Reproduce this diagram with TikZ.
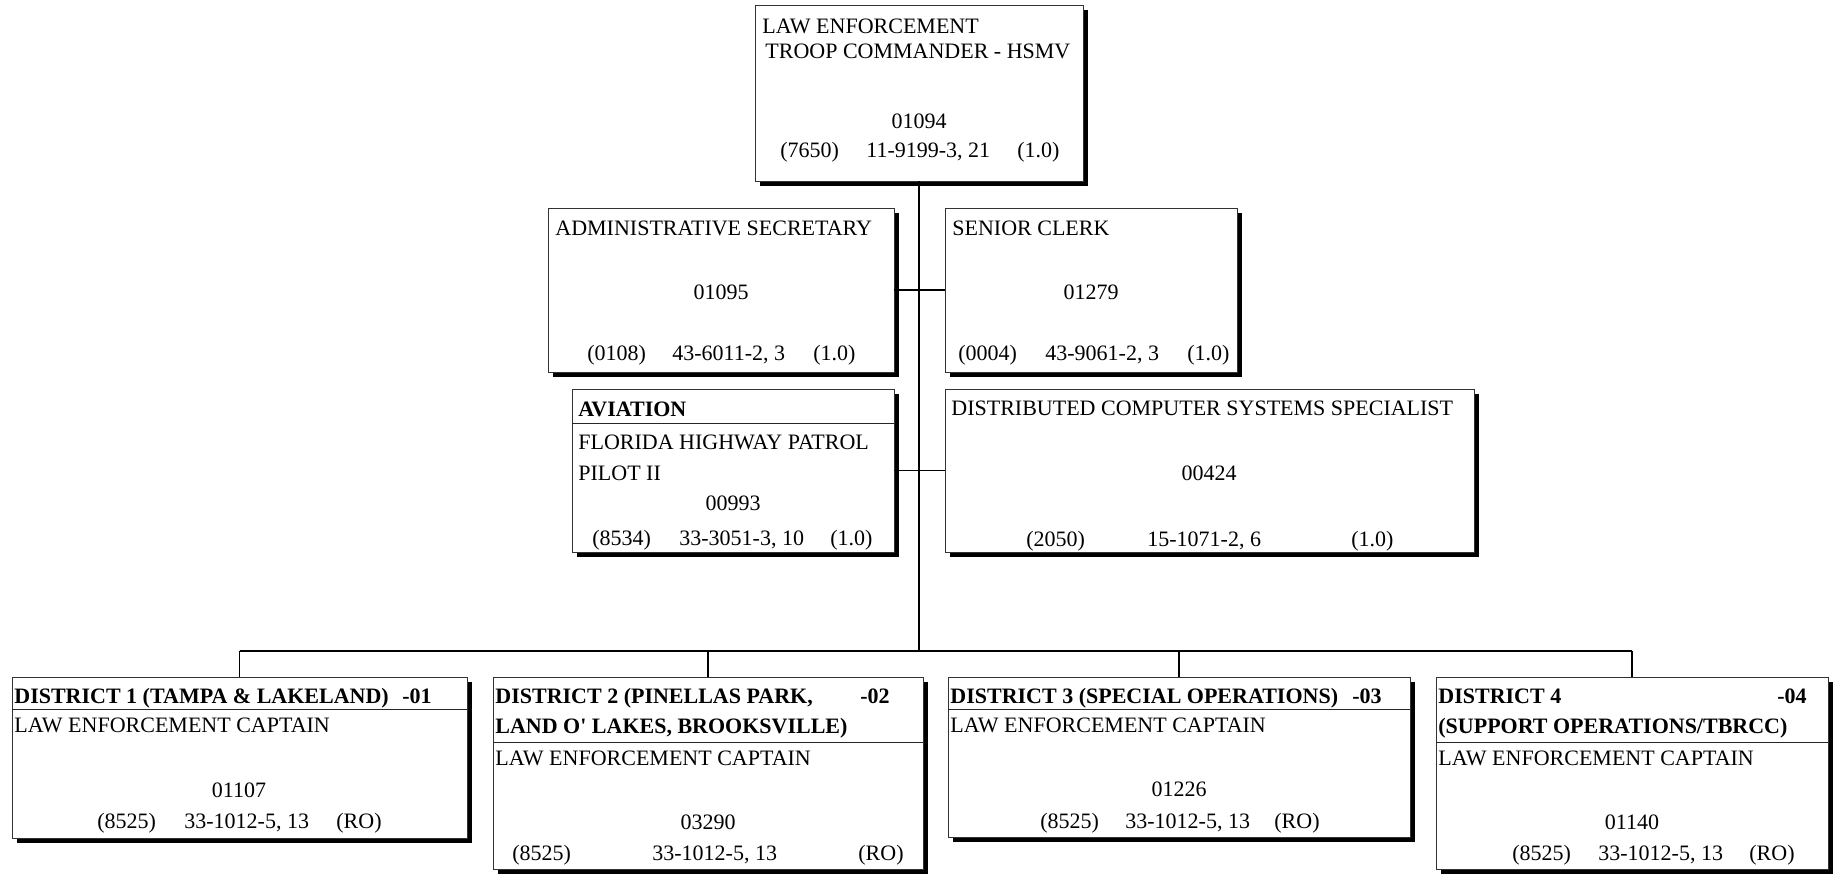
\documentclass[tikz,border=0pt]{standalone}
\usepackage{fontspec}
\setmainfont{Liberation Serif}
\begin{document}
\begin{tikzpicture}[x=0.5pt,y=-0.5pt,
  lbl/.style={inner sep=0pt, font=\fontsize{11}{13}\selectfont},
  L/.style={lbl, anchor=base west},
  C/.style={lbl, anchor=base},
  R/.style={lbl, anchor=base east},
  B/.style={font=\fontsize{11}{13}\selectfont\bfseries},
  link/.style={draw=black, line width=0.55pt},
  sep/.style={draw=black!85, line width=0.5pt},
  posbox/.style={draw=black!80, fill=white, line width=0.5pt, inner sep=0pt, outer sep=0pt}]
\useasboundingbox (0,0) rectangle (1841,873);

% position box with drop shadow: name, left, top, right, bottom
\newcommand\orgbox[5]{%
  \fill[black] (#2+5,#3+5) rectangle (#4+5,#5+5);
  \node[posbox, minimum width={0.5pt*(#4-#2)}, minimum height={0.5pt*(#5-#3)}]
    (#1) at ({(#2+#4)/2},{(#3+#5)/2}) {};}

% boxes
\orgbox{top}{755}{5}{1083}{181}
\orgbox{admin}{548}{208}{894}{372}
\orgbox{senior}{945}{208}{1237}{372}
\orgbox{avi}{572}{389}{894}{552}
\orgbox{dcss}{945}{389}{1474}{552}
\orgbox{d1}{12}{677}{467}{838}
\orgbox{d2}{493}{677}{923}{869}
\orgbox{d3}{948}{677}{1410}{837}
\orgbox{d4}{1436}{677}{1828}{869}

% header separators
\draw[sep] (572,423) -- (894,423);
\draw[sep] (12,709) -- (467,709);
\draw[sep] (493,742) -- (923,742);
\draw[sep] (948,709) -- (1410,709);
\draw[sep] (1436,742) -- (1828,742);

% connectors
\coordinate (bus) at (919,651);
\draw[link] (top.south) -- (bus);
\draw[link] (d1.north |- bus) -- (d4.north |- bus);
\foreach \d in {d1,d2,d3,d4} \draw[link] (\d.north |- bus) -- (\d.north);
\draw[link] (admin.east) -- (senior.west);
\draw[link] (avi.east) -- (dcss.west);

% troop commander
\node[L] (t1) at (762,33) {LAW ENFORCEMENT};
\node[L] (t2) at (765,58) {TROOP COMMANDER - HSMV};
\node[C] (t3) at (919,128) {01094};
\node[L] (t4) at (780,157) {(7650)};
\node[L] (t5) at (866,157) {11-9199-3, 21};
\node[L] (t6) at (1017,157) {(1.0)};

% administrative secretary
\node[L] (a1) at (555,235) {ADMINISTRATIVE SECRETARY};
\node[C] (a2) at (721,299) {01095};
\node[L] (a3) at (587,360) {(0108)};
\node[L] (a4) at (672,360) {43-6011-2, 3};
\node[L] (a5) at (813,360) {(1.0)};

% senior clerk
\node[L] (s1) at (952,235) {SENIOR CLERK};
\node[C] (s2) at (1091,299) {01279};
\node[L] (s3) at (958,360) {(0004)};
\node[L] (s4) at (1045,360) {43-9061-2, 3};
\node[L] (s5) at (1187,360) {(1.0)};

% aviation
\node[L,B] (v1) at (578,416) {AVIATION};
\node[L] (v2) at (578,449) {FLORIDA HIGHWAY PATROL};
\node[L] (v3) at (578,480) {PILOT II};
\node[C] (v4) at (733,510) {00993};
\node[L] (v5) at (592,545) {(8534)};
\node[L] (v6) at (679,545) {33-3051-3, 10};
\node[L] (v7) at (830,545) {(1.0)};

% distributed computer systems specialist
\node[L] (c1) at (951,415) {DISTRIBUTED COMPUTER SYSTEMS SPECIALIST};
\node[C] (c2) at (1209,480) {00424};
\node[L] (c3) at (1026,546) {(2050)};
\node[L] (c4) at (1147,546) {15-1071-2, 6};
\node[L] (c5) at (1351,546) {(1.0)};

% district 1
\node[L,B] (e1) at (14,703) {DISTRICT 1 (TAMPA \& LAKELAND)};
\node[R,B] (e2) at (432,703) {-01};
\node[L] (e3) at (14,732) {LAW ENFORCEMENT CAPTAIN};
\node[C] (e4) at (239,797) {01107};
\node[L] (e5) at (97,828) {(8525)};
\node[L] (e6) at (184,828) {33-1012-5, 13};
\node[L] (e7) at (336,828) {(RO)};

% district 2
\node[L,B] (f1) at (495,703) {DISTRICT 2 (PINELLAS PARK,};
\node[R,B] (f2) at (890,703) {-02};
\node[L,B] (f3) at (495,733) {LAND O\textquotesingle\ LAKES, BROOKSVILLE)};
\node[L] (f4) at (495,765) {LAW ENFORCEMENT CAPTAIN};
\node[C] (f5) at (708,829) {03290};
\node[L] (f6) at (512,860) {(8525)};
\node[L] (f7) at (652,860) {33-1012-5, 13};
\node[L] (f8) at (858,860) {(RO)};

% district 3
\node[L,B] (g1) at (950,703) {DISTRICT 3 (SPECIAL OPERATIONS)};
\node[R,B] (g2) at (1382,703) {-03};
\node[L] (g3) at (950,732) {LAW ENFORCEMENT CAPTAIN};
\node[C] (g4) at (1179,796) {01226};
\node[L] (g5) at (1040,828) {(8525)};
\node[L] (g6) at (1125,828) {33-1012-5, 13};
\node[L] (g7) at (1274,828) {(RO)};

% district 4
\node[L,B] (h1) at (1438,703) {DISTRICT 4};
\node[R,B] (h2) at (1807,703) {-04};
\node[L,B] (h3) at (1438,733) {(SUPPORT OPERATIONS/TBRCC)};
\node[L] (h4) at (1438,765) {LAW ENFORCEMENT CAPTAIN};
\node[C] (h5) at (1632,829) {01140};
\node[L] (h6) at (1512,860) {(8525)};
\node[L] (h7) at (1598,860) {33-1012-5, 13};
\node[L] (h8) at (1749,860) {(RO)};
\end{tikzpicture}
\end{document}
